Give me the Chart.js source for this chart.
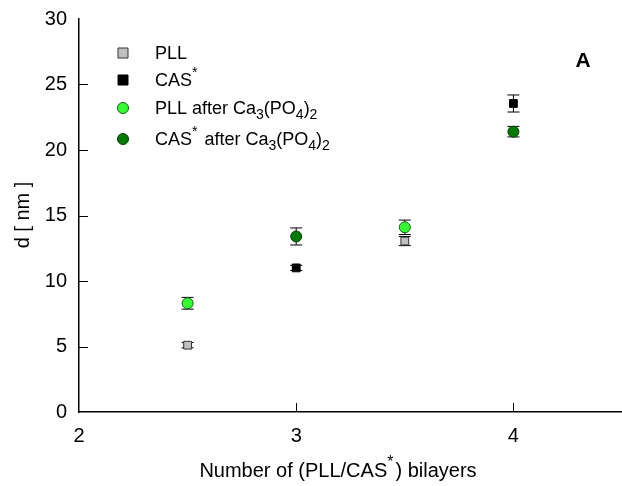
<!DOCTYPE html>
<html>
<head>
<meta charset="utf-8">
<script src="https://cdn.jsdelivr.net/npm/chart.js@4.4.1/dist/chart.umd.min.js"></script>
<style>
  html, body { margin: 0; padding: 0; background: #fff; overflow: hidden; }
  #wrap { width: 622px; height: 486px; }
</style>
</head>
<body>
<div id="wrap"><canvas id="c" width="622" height="486"></canvas></div>
<script>
// ---- Data ----
const xTicks = [2, 3, 4];
const yTicks = [0, 5, 10, 15, 20, 25, 30];

const pllX = [2.5, 3.5];
const pllY = [5.1, 13.05];
const pllErr = [0.2, 0.35];

const casX = [3, 4];
const casY = [11.0, 23.55];
const casErr = [0.2, 0.65];

const pllCaX = [2.5, 3.5];
const pllCaY = [8.3, 14.1];
const pllCaErr = [0.45, 0.55];

const casCaX = [3, 4];
const casCaY = [13.4, 21.4];
const casCaErr = [0.65, 0.4];

const FONT = '"Liberation Sans", Arial, sans-serif';

function pts(xs, ys) { return xs.map((x, i) => ({ x: x, y: ys[i] })); }

const legendItems = [
  { parts: [{ t: 'PLL' }], style: 'rect', fill: '#c0c0c0', stroke: '#333' },
  { parts: [{ t: 'CAS' }, { t: '*', sup: true }], style: 'rect', fill: '#000', stroke: '#000' },
  { parts: [{ t: 'PLL after Ca' }, { t: '3', sub: true }, { t: '(PO' }, { t: '4', sub: true }, { t: ')' }, { t: '2', sub: true }], style: 'circle', fill: '#33ff33', stroke: '#1a5a1a' },
  { parts: [{ t: 'CAS' }, { t: '*', sup: true }, { t: ' after Ca' }, { t: '3', sub: true }, { t: '(PO' }, { t: '4', sub: true }, { t: ')' }, { t: '2', sub: true }], style: 'circle', fill: '#007a00', stroke: '#0a3a0a' }
];

function drawRich(ctx, parts, x, y, size, align) {
  const small = Math.round(size * 0.8);
  let w = 0;
  parts.forEach(p => {
    ctx.font = ((p.sub || p.sup) ? small : size) + 'px ' + FONT;
    w += ctx.measureText(p.t).width;
  });
  let cx = align === 'center' ? x - w / 2 : x;
  ctx.textBaseline = 'alphabetic';
  ctx.textAlign = 'left';
  parts.forEach(p => {
    const s = (p.sub || p.sup) ? small : size;
    ctx.font = s + 'px ' + FONT;
    let dy = 0;
    if (p.sub) dy = size * 0.28;
    if (p.sup) dy = -size * 0.5;
    ctx.fillText(p.t, cx, y + dy);
    cx += ctx.measureText(p.t).width + (p.sup ? 2 : 0);
  });
}

const errorBars = {
  id: 'errorBars',
  beforeDatasetsDraw(chart) {
    const ctx = chart.ctx;
    const xs = chart.scales.x, ys = chart.scales.y;
    ctx.save();
    ctx.strokeStyle = '#000';
    ctx.lineWidth = 1;
    chart.data.datasets.forEach(ds => {
      ds.data.forEach((p, i) => {
        const e = ds.errors[i];
        const px = xs.getPixelForValue(p.x);
        const top = ys.getPixelForValue(p.y + e);
        const bot = ys.getPixelForValue(p.y - e);
        ctx.beginPath();
        ctx.moveTo(px, top); ctx.lineTo(px, bot);
        ctx.moveTo(px - 6, top); ctx.lineTo(px + 6, top);
        ctx.moveTo(px - 6, bot); ctx.lineTo(px + 6, bot);
        ctx.stroke();
      });
    });
    ctx.restore();
  }
};

const decor = {
  id: 'decor',
  afterDraw(chart) {
    const ctx = chart.ctx;
    const xs = chart.scales.x, ys = chart.scales.y;
    const area = chart.chartArea;
    ctx.save();
    // inward tick marks
    ctx.strokeStyle = '#000';
    ctx.lineWidth = 1;
    ctx.beginPath();
    yTicks.forEach(v => {
      if (v === 0 || v === 30) return;
      const py = Math.round(ys.getPixelForValue(v)) + 0.5;
      ctx.moveTo(area.left, py); ctx.lineTo(area.left + 9, py);
    });
    xTicks.forEach(v => {
      if (v === 2) return;
      const px = Math.round(xs.getPixelForValue(v)) + 0.5;
      ctx.moveTo(px, area.bottom); ctx.lineTo(px, area.bottom - 9);
    });
    ctx.stroke();

    // legend
    const rows = [53, 80, 108, 139];
    legendItems.forEach((it, i) => {
      const my = rows[i];
      ctx.fillStyle = it.fill;
      ctx.strokeStyle = it.stroke;
      ctx.lineWidth = 1;
      ctx.beginPath();
      if (it.style === 'rect') {
        ctx.rect(118, my - 5, 10, 10);
      } else {
        ctx.arc(123, my, 5.5, 0, Math.PI * 2);
      }
      ctx.fill(); ctx.stroke();
      ctx.fillStyle = '#000';
      drawRich(ctx, it.parts, 155, my + 6, 18, 'left');
    });

    // panel label
    ctx.fillStyle = '#000';
    ctx.font = 'bold 21px ' + FONT;
    ctx.textAlign = 'center';
    ctx.textBaseline = 'middle';
    ctx.fillText('A', 583, 61);

    // x title
    drawRich(ctx, [{ t: 'Number of (PLL/CAS' }, { t: '*', sup: true }, { t: ') bilayers' }], 337, 477, 20, 'center');

    // y title
    ctx.save();
    ctx.translate(29, 215);
    ctx.rotate(-Math.PI / 2);
    ctx.font = '20px ' + FONT;
    ctx.textAlign = 'center';
    ctx.textBaseline = 'alphabetic';
    ctx.fillText('d [ nm ]', 0, 0);
    ctx.restore();
    ctx.restore();
  }
};

new Chart(document.getElementById('c'), {
  type: 'scatter',
  data: {
    datasets: [
      { label: 'PLL', data: pts(pllX, pllY), errors: pllErr, pointStyle: 'rect', pointRadius: 5.5, backgroundColor: '#c0c0c0', borderColor: '#333', borderWidth: 1 },
      { label: 'CAS*', data: pts(casX, casY), errors: casErr, pointStyle: 'rect', pointRadius: 5.5, backgroundColor: '#000', borderColor: '#000', borderWidth: 1 },
      { label: 'PLL after Ca3(PO4)2', data: pts(pllCaX, pllCaY), errors: pllCaErr, pointStyle: 'circle', pointRadius: 5.5, backgroundColor: '#33ff33', borderColor: '#1a5a1a', borderWidth: 1 },
      { label: 'CAS* after Ca3(PO4)2', data: pts(casCaX, casCaY), errors: casCaErr, pointStyle: 'circle', pointRadius: 5.5, backgroundColor: '#007a00', borderColor: '#0a3a0a', borderWidth: 1 }
    ]
  },
  options: {
    responsive: false,
    animation: false,
    devicePixelRatio: 1,
    layout: { autoPadding: false, padding: { top: 19, left: 0, right: 0, bottom: 0 } },
    plugins: { legend: { display: false }, tooltip: { enabled: false } },
    scales: {
      x: {
        type: 'linear', min: 2, max: 4.5,
        grid: { display: false, drawTicks: false },
        border: { display: true, color: '#000', width: 1.5 },
        ticks: { stepSize: 1, color: '#000', font: { family: FONT, size: 20 }, padding: 12, maxRotation: 0 },
        afterBuildTicks(s) { s.ticks = xTicks.map(v => ({ value: v })); },
        afterFit(s) { s.height = 74; s.paddingRight = 0; s.paddingLeft = 0; }
      },
      y: {
        type: 'linear', min: 0, max: 30,
        grid: { display: false, drawTicks: false },
        border: { display: true, color: '#000', width: 1.5 },
        ticks: { stepSize: 5, color: '#000', font: { family: FONT, size: 20 }, padding: 12 },
        afterBuildTicks(s) { s.ticks = yTicks.map(v => ({ value: v })); },
        afterFit(s) { s.width = 79; s.paddingTop = 0; s.paddingBottom = 0; }
      }
    }
  },
  plugins: [errorBars, decor]
});
</script>
</body>
</html>
